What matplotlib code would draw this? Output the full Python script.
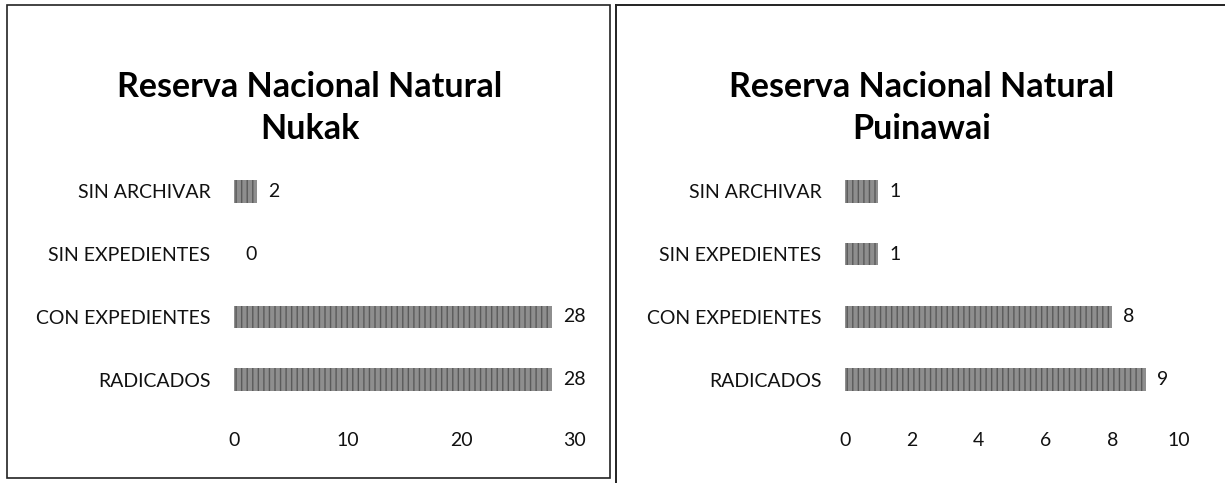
import matplotlib
matplotlib.use('Agg')
import matplotlib.pyplot as plt
from matplotlib.patches import Rectangle
from matplotlib.lines import Line2D

# Données
categorias = ['RADICADOS', 'CON EXPEDIENTES', 'SIN EXPEDIENTES', 'SIN ARCHIVAR']
valores_nukak = [28, 28, 0, 2]
valores_puinawai = [9, 8, 1, 1]
titulo_nukak = 'Reserva Nacional Natural\nNukak'
titulo_puinawai = 'Reserva Nacional Natural\nPuinawai'
ticks_nukak = [0, 10, 20, 30]
ticks_puinawai = [0, 2, 4, 6, 8, 10]

W, H = 1225, 483
plt.rcParams['font.family'] = ['Lato', 'DejaVu Sans']
plt.rcParams['hatch.linewidth'] = 1.0
plt.rcParams['hatch.color'] = '#3c3c3c'

fig = plt.figure(figsize=(W / 100, H / 100), dpi=100)


def px(x0, y_top, x1, y_bot):
    return [x0 / W, 1 - y_bot / H, (x1 - x0) / W, (y_bot - y_top) / H]


def dibujar_panel(rect, valores, ticks, titulo, cx):
    ax = fig.add_axes(rect)
    bars = ax.barh(range(len(categorias)), valores, height=0.36,
                   color='#8e8e8e', hatch='|||', edgecolor='#5a5a5a', linewidth=0)
    ax.bar_label(bars, padding=8, fontsize=14, color='#111111')
    ax.set_yticks(range(len(categorias)))
    ax.set_yticklabels(categorias, fontsize=14)
    ax.set_xticks(ticks)
    ax.set_xlim(ticks[0], ticks[-1])
    ax.set_ylim(-0.5, len(categorias) - 0.5)
    ax.tick_params(axis='both', length=0, labelsize=14, colors='#111111')
    ax.tick_params(axis='x', pad=15)
    ax.tick_params(axis='y', pad=17)
    for s in ax.spines.values():
        s.set_visible(False)
    fig.text(cx / W, 1 - 108 / H, titulo, ha='center', va='center',
             fontsize=24.5, fontweight='bold', linespacing=1.42)
    return ax


dibujar_panel(px(234, 160, 575, 411), valores_nukak, ticks_nukak, titulo_nukak, 310)
dibujar_panel(px(845, 160, 1179, 411), valores_puinawai, ticks_puinawai, titulo_puinawai, 922)

# Cadres
fig.patches.append(Rectangle((7 / W, 1 - 478 / H), (610 - 7) / W, (478 - 5) / H,
                             transform=fig.transFigure, fill=False,
                             edgecolor='#222222', linewidth=1.2))
fig.lines.append(Line2D([616 / W, 616 / W], [0, 1 - 5 / H], transform=fig.transFigure,
                        color='#222222', linewidth=1.4))
fig.lines.append(Line2D([616 / W, 1], [1 - 5 / H, 1 - 5 / H], transform=fig.transFigure,
                        color='#222222', linewidth=1.4))

fig.savefig('out.png', dpi=100)
